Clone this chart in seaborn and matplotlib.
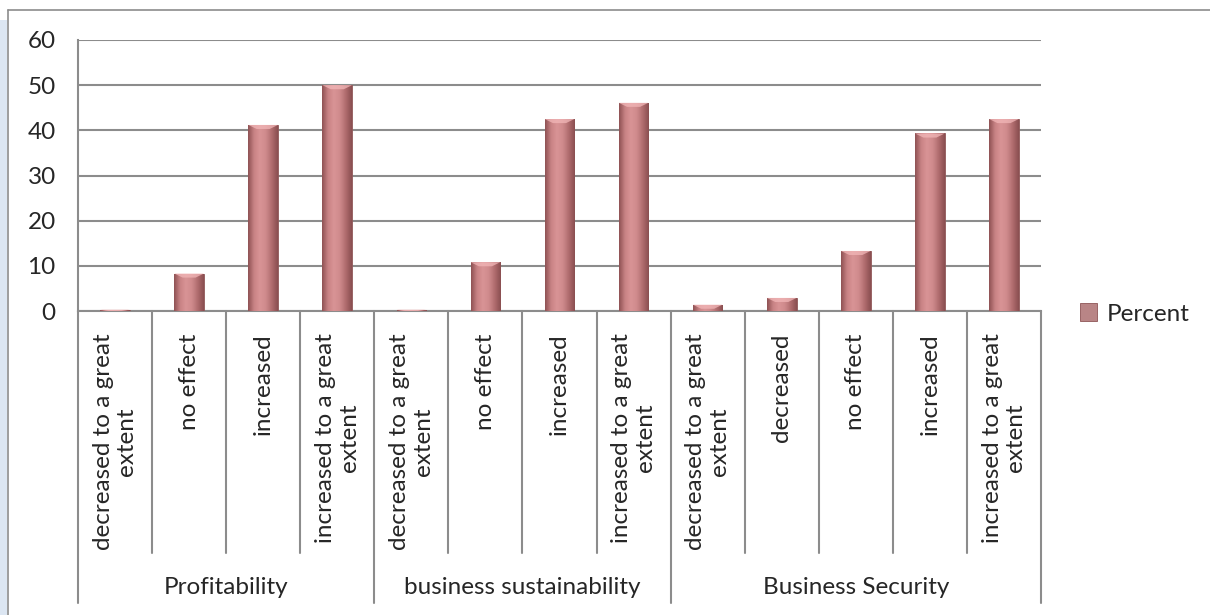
import textwrap
import numpy as np
import pandas as pd
import matplotlib
matplotlib.use('Agg')
import matplotlib.pyplot as plt
import matplotlib.patches as mpatches
from matplotlib.colors import LinearSegmentedColormap
from matplotlib.lines import Line2D
import matplotlib.transforms as mtransforms
import seaborn as sns

# data
groups = ['Profitability', 'business sustainability', 'Business Security']
prof_labels = ['decreased to a great extent', 'no effect', 'increased',
               'increased to a great extent']
prof_values = [0.3, 8.3, 41.2, 50.0]
sust_labels = ['decreased to a great extent', 'no effect', 'increased',
               'increased to a great extent']
sust_values = [0.3, 10.8, 42.5, 46.1]
sec_labels = ['decreased to a great extent', 'decreased', 'no effect',
              'increased', 'increased to a great extent']
sec_values = [1.4, 2.9, 13.3, 39.3, 42.5]
y_ticks = [0, 10, 20, 30, 40, 50, 60]
series_name = 'Percent'

rows = []
for g, labs, vals in zip(groups, [prof_labels, sust_labels, sec_labels],
                         [prof_values, sust_values, sec_values]):
    for lab, v in zip(labs, vals):
        rows.append({'group': g, 'label': lab, 'key': g + '|' + lab, 'value': v})
df = pd.DataFrame(rows)

sns.set_style('white')
plt.rcParams['font.family'] = ['Lato', 'DejaVu Sans']
FS = 17.5

fig = plt.figure(figsize=(12.1, 6.15), dpi=100)
ax = fig.add_axes([78 / 1210, 1 - 311 / 615, (1041 - 78) / 1210, (311 - 40) / 615])

bar_color = '#C27C7E'
sns.barplot(data=df, x='key', y='value', order=df['key'].tolist(), color=bar_color,
            width=0.4, edgecolor='#8E5556', linewidth=0.6, label=series_name,
            ax=ax, zorder=3)
if ax.get_legend() is not None:
    ax.get_legend().remove()

# gradient shading on each bar (rough imitation of the bevel look)
cmap = LinearSegmentedColormap.from_list(
    'bevel', ['#8F5254', '#C98385', '#D99496', '#CF8A8C', '#B06C6E', '#8A4F51'])
xs = np.linspace(0, 1, 64)
grad = np.tile(xs, (32, 1))
for p in ax.patches:
    x0, y0 = p.get_x(), p.get_y()
    w, h = p.get_width(), p.get_height()
    im = ax.imshow(grad, extent=[x0, x0 + w, y0, y0 + h], aspect='auto', cmap=cmap,
                   origin='lower', zorder=3.5, interpolation='bicubic')
    im.set_clip_path(p)
    # light chevron at the top of each bar
    bev = min(h, 0.9)
    tri = mpatches.Polygon([[x0, y0 + h], [x0 + w, y0 + h],
                            [x0 + w * 0.72, y0 + h - bev], [x0 + w * 0.28, y0 + h - bev]],
                           closed=True, facecolor='#F2B7B8', edgecolor='none',
                           alpha=0.75, zorder=3.6)
    ax.add_patch(tri)

n = len(df)
ax.set_xlim(-0.5, n - 0.5)
ax.set_ylim(0, 60)
ax.set_yticks(y_ticks)
ax.set_xlabel('')
ax.set_ylabel('')

grid_c = '#8C8C8C'
ax.yaxis.grid(True, color=grid_c, linewidth=1.5, zorder=0)
ax.set_axisbelow(True)
for s in ['top', 'right']:
    ax.spines[s].set_visible(False)
ax.spines['left'].set_color(grid_c)
ax.spines['left'].set_linewidth(1.5)
ax.spines['bottom'].set_color(grid_c)
ax.spines['bottom'].set_linewidth(1.5)
ax.tick_params(axis='y', length=8, width=1.5, color=grid_c, labelsize=FS, pad=8)
ax.tick_params(axis='x', length=0, labelsize=FS, pad=16)

wrapped = [textwrap.fill(t, 20) for t in df['label']]
ax.set_xticks(range(n))
ax.set_xticklabels(wrapped, rotation=90, va='top', ha='center',
                   multialignment='center', linespacing=1.15)

# multi-level category axis
trans = mtransforms.blended_transform_factory(ax.transData, ax.transAxes)
inner_bottom = -(553 - 311) / 271
outer_bottom = -(603 - 311) / 271
group_sizes = df.groupby('group', sort=False).size().tolist()
edges = np.cumsum([0] + group_sizes) - 0.5
for i in range(n + 1):
    xb = i - 0.5
    yb = outer_bottom if xb in edges else inner_bottom
    ax.add_line(Line2D([xb, xb], [0, yb], transform=trans, color=grid_c,
                       linewidth=1.5, clip_on=False))
for g, a, b in zip(groups, edges[:-1], edges[1:]):
    ax.text((a + b) / 2, -(588 - 311) / 271, g, transform=trans, ha='center',
            va='center', fontsize=FS)

# legend
handles, labels = ax.get_legend_handles_labels()
fig.legend(handles, labels, loc='center left', bbox_to_anchor=(1058 / 1210, 1 - 314 / 615),
           frameon=False, fontsize=FS, handlelength=0.7, handleheight=0.7,
           handletextpad=0.4)

# chart frame
fig.add_artist(Line2D([8 / 1210, 1], [1 - 10 / 615, 1 - 10 / 615],
                      transform=fig.transFigure, color='#8C8C8C', linewidth=1.2))
fig.add_artist(Line2D([8 / 1210, 8 / 1210], [0, 1 - 10 / 615],
                      transform=fig.transFigure, color='#8C8C8C', linewidth=1.2))
fig.add_artist(mpatches.Rectangle((0, 0), 7 / 1210, 1 - 20 / 615, transform=fig.transFigure,
                                  facecolor='#DCE6F2', edgecolor='none'))

fig.savefig('out.png', dpi=100)
